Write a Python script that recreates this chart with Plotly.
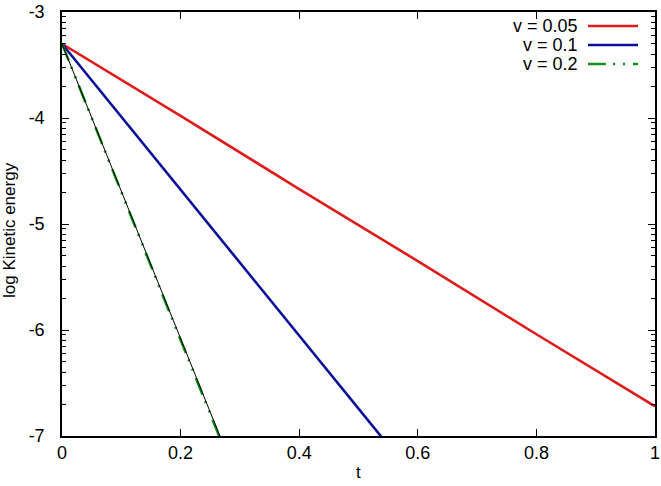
import math
import plotly.graph_objects as go

# ---- data ----
t_v005 = [0.0, 0.2, 0.4, 0.6, 0.8, 1.0]
logE_v005 = [-3.30, -3.98, -4.67, -5.35, -6.04, -6.72]

t_v01 = [0.0, 0.1, 0.2, 0.3, 0.4, 0.5, 0.6]
logE_v01 = [-3.30, -3.99, -4.68, -5.36, -6.05, -6.74, -7.43]

t_v02 = [0.0, 0.05, 0.1, 0.15, 0.2, 0.25, 0.3]
logE_v02 = [-3.30, -4.00, -4.70, -5.39, -6.09, -6.79, -7.49]

t_fit = [0.0, 0.3]
logE_fit = [-3.30, -7.47]

legend_labels = ["v = 0.05", "v = 0.1", "v = 0.2"]
x_title = "t"
y_title = "log Kinetic energy"
x_ticks = [0, 0.2, 0.4, 0.6, 0.8, 1.0]
x_ticktext = ["0", "0.2", "0.4", "0.6", "0.8", "1"]
y_ticks = [-7, -6, -5, -4, -3]
y_ticktext = ["-7", "-6", "-5", "-4", "-3"]

RED = "#e01b1b"
BLUE = "#0a0f9a"
GREEN = "#12921a"
GREEN_DASH = "18px,7px,2px,8px,2px,8px"
FONT = "Liberation Sans, Arial, Helvetica, sans-serif"

fig = go.Figure()
fig.add_trace(go.Scatter(x=t_v005, y=logE_v005, mode="lines",
                         line=dict(color=RED, width=2.6), name=legend_labels[0]))
fig.add_trace(go.Scatter(x=t_v01, y=logE_v01, mode="lines",
                         line=dict(color=BLUE, width=2.6), name=legend_labels[1]))
fig.add_trace(go.Scatter(x=t_v02, y=logE_v02, mode="lines",
                         line=dict(color=GREEN, width=2.6, dash=GREEN_DASH),
                         name=legend_labels[2]))
fig.add_trace(go.Scatter(x=t_fit, y=logE_fit, mode="lines",
                         line=dict(color="black", width=1.0), name="fit"))

# log-style minor ticks as in the reference
minor_vals = []
for k in range(-7, -3):
    for m in range(2, 10):
        minor_vals.append(k + math.log10(m))

axis_common = dict(
    showline=True, linecolor="black", linewidth=1.5, mirror="ticks",
    ticks="inside", ticklen=7, tickwidth=1.2, tickcolor="black",
    showgrid=False, zeroline=False, automargin=False,
    ticklabeloverflow="allow",
    tickfont=dict(family=FONT, size=18, color="black"),
)

fig.update_xaxes(range=[0, 1], tickmode="array", tickvals=x_ticks,
                 ticktext=x_ticktext, ticklabelstandoff=0, **axis_common)
fig.update_yaxes(range=[-7, -3], tickmode="array", tickvals=y_ticks,
                 ticktext=y_ticktext,
                 minor=dict(tickmode="array", tickvals=minor_vals, ticks="inside",
                            ticklen=4, tickwidth=1.1, tickcolor="black"),
                 ticklabelstandoff=12, **axis_common)

PL, PR, PT, PB = 62, 655, 12, 436
def px_x(p):
    return (p - PL) / (PR - PL)
def px_y(p):
    return (PB - p) / (PB - PT)

# axis titles
fig.add_annotation(x=px_x(358), y=px_y(472), xref="paper", yref="paper",
                   text=x_title, showarrow=False, xanchor="center", yanchor="middle",
                   font=dict(family=FONT, size=17, color="black"))
fig.add_annotation(x=px_x(10), y=px_y(230), xref="paper", yref="paper",
                   text=y_title, showarrow=False, textangle=-90,
                   xanchor="center", yanchor="middle",
                   font=dict(family=FONT, size=17, color="black"))

# gnuplot-like legend (text right-aligned, sample line to the right)
rows_y = [26, 45, 64]
styles = [dict(color=RED, width=2.6), dict(color=BLUE, width=2.6),
          dict(color=GREEN, width=2.6, dash=GREEN_DASH)]
for lab, yy, st in zip(legend_labels, rows_y, styles):
    fig.add_annotation(x=px_x(579), y=px_y(yy), xref="paper", yref="paper",
                       text=lab, showarrow=False, xanchor="right", yanchor="middle",
                       font=dict(family=FONT, size=18, color="black"),
                       height=18, borderpad=0)
    fig.add_shape(type="line", xref="paper", yref="paper",
                  x0=px_x(588), x1=px_x(638), y0=px_y(yy), y1=px_y(yy), line=st)

fig.update_layout(
    width=661, height=486,
    margin=dict(l=PL, r=661 - PR, t=PT, b=486 - PB),
    paper_bgcolor="white", plot_bgcolor="white",
    showlegend=False, hovermode=False,
    font=dict(family=FONT, color="black"),
)

fig.write_html("out.html", config={"displayModeBar": False},
               post_script="document.body.style.margin='0';document.body.style.overflow='hidden';")
